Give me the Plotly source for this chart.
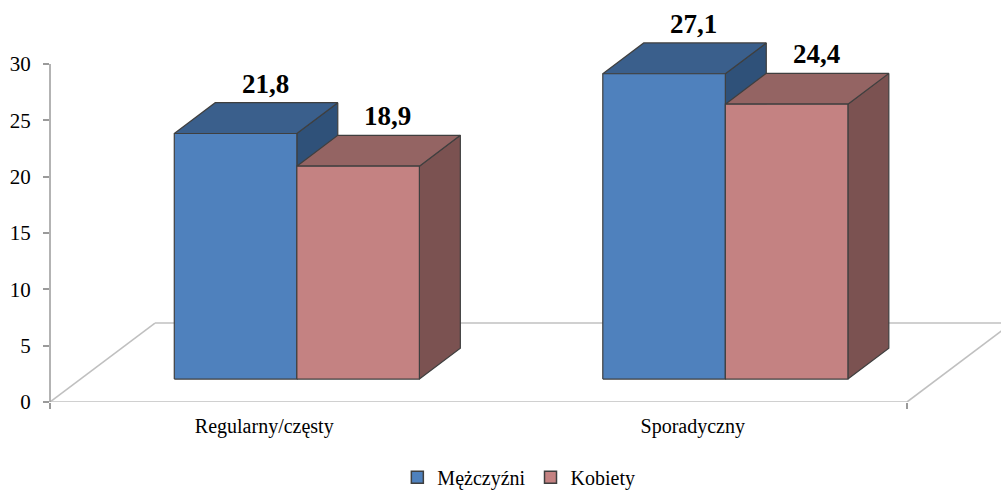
import plotly.graph_objects as go

# dane
categories = ['Regularny/częsty', 'Sporadyczny']
series_names = ['Mężczyźni', 'Kobiety']
men = [21.8, 27.1]
women = [18.9, 24.4]
y_ticks = [0, 5, 10, 15, 20, 25, 30]

# kolory (przód, góra, bok)
colors = {
    'Mężczyźni': ('#4F81BD', '#3A5F8C', '#2F5179'),
    'Kobiety': ('#C48282', '#946463', '#7B5251'),
}
EDGE = '#3F3F3F'
FLOOR = '#C0C0C0'
AXIS = '#9A9A9A'
FONT = 'Liberation Serif'

# geometria pseudo-3D (jednostki danych)
DX, DY = 0.245, 7.01            # pełna głębokość podłogi
F_DEPTH, B_DEPTH = 0.29, 0.68   # przód i tył słupka (ułamek głębokości)
START, WIDTH = 0.219, 0.286
PX_PER_UNIT = 338 / 30

fig = go.Figure()


def poly(xs, ys, fill):
    fig.add_trace(go.Scatter(
        x=xs + [xs[0]], y=ys + [ys[0]],
        mode='lines', fill='toself', fillcolor=fill,
        line=dict(color=EDGE, width=1.2),
        hoverinfo='skip', showlegend=False
    ))


# podłoga
floor_x = [[0, 2], [0, DX], [DX, 2 + DX], [2, 2 + DX]]
floor_y = [[0, 0], [0, DY], [DY, DY], [0, DY]]
for fx, fy in zip(floor_x, floor_y):
    fig.add_trace(go.Scatter(
        x=fx, y=fy, mode='lines',
        line=dict(color=FLOOR, width=1.6),
        hoverinfo='skip', showlegend=False
    ))

annotations = []
for ci, cat in enumerate(categories):
    for si, (name, vals) in enumerate(zip(series_names, [men, women])):
        v = vals[ci]
        front, top, side = colors[name]
        x0 = ci + START + si * WIDTH
        x1 = x0 + WIDTH
        fx0, fx1 = x0 + F_DEPTH * DX, x1 + F_DEPTH * DX
        bx0, bx1 = x0 + B_DEPTH * DX, x1 + B_DEPTH * DX
        fy0 = F_DEPTH * DY
        by0 = B_DEPTH * DY
        # bok
        poly([fx1, fx1, bx1, bx1], [fy0, fy0 + v, by0 + v, by0], side)
        # góra
        poly([fx0, fx1, bx1, bx0], [fy0 + v, fy0 + v, by0 + v, by0 + v], top)
        # przód
        poly([fx0, fx1, fx1, fx0], [fy0, fy0, fy0 + v, fy0 + v], front)
        annotations.append(dict(
            x=(bx0 + bx1) / 2 - 0.026, y=by0 + v + 1.7,
            text=f'{v:.1f}'.replace('.', ','), showarrow=False,
            font=dict(family=FONT, size=27, color='black', weight='bold'),
            xanchor='center', yanchor='middle'
        ))

# legenda
for name in series_names:
    fig.add_trace(go.Bar(
        x=[None], y=[None], name=name,
        marker=dict(color=colors[name][0], line=dict(color=EDGE, width=1.5))
    ))

fig.update_layout(
    width=1001, height=490,
    margin=dict(l=50, r=0, t=0, b=88, autoexpand=False),
    plot_bgcolor='white', paper_bgcolor='white',
    font=dict(family=FONT, color='black'),
    annotations=annotations,
    shapes=[dict(type='line', xref='paper', yref='y', x0=0, x1=0, y0=0, y1=30,
                 line=dict(color=AXIS, width=1.5))],
    showlegend=True,
    legend=dict(
        orientation='h', x=0.493, y=-0.187, xanchor='center', yanchor='middle',
        font=dict(family=FONT, size=20, color='black'), itemwidth=30
    ),
    xaxis=dict(
        range=[0, 951 / 428.5], showgrid=False, zeroline=False, showline=False,
        tickvals=[0.5, 1.5], ticktext=categories, ticks='',
        tickfont=dict(family=FONT, size=20, color='black'),
        ticklabelstandoff=10,
        minor=dict(tickvals=[0, 2], ticks='outside', ticklen=6, tickcolor=AXIS, tickwidth=1.5),
        automargin=False, fixedrange=True
    ),
    yaxis=dict(
        range=[0, 402 / PX_PER_UNIT], showgrid=False, zeroline=False, showline=False,
        tickvals=y_ticks, ticks='outside', ticklen=6, tickcolor=AXIS, tickwidth=1.5,
        tickfont=dict(family=FONT, size=21, color='black'),
        ticklabelstandoff=8,
        automargin=False, fixedrange=True
    ),
)

# bez domyślnego marginesu strony
fig.write_html('out.html', config={'displayModeBar': False},
               post_script="document.body.style.margin='0';")
